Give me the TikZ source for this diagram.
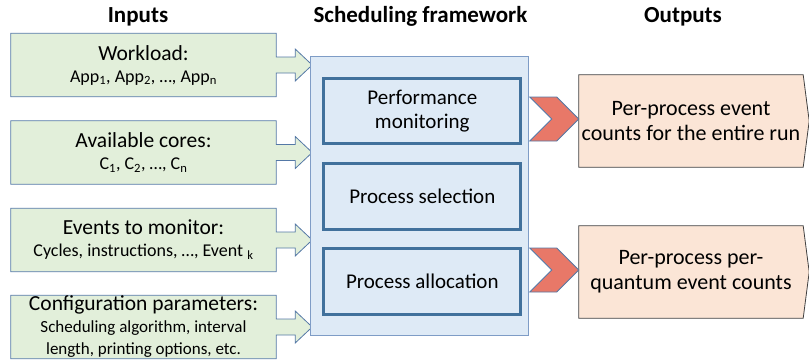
\documentclass[tikz,border=0pt]{standalone}
\usepackage{fontspec}
\setmainfont{Carlito}
\usetikzlibrary{backgrounds}
\definecolor{inputFill}{RGB}{226,239,218}
\definecolor{inputLine}{RGB}{84,120,166}
\definecolor{frameFill}{RGB}{222,234,246}
\definecolor{frameLine}{RGB}{126,156,198}
\definecolor{stepLine}{RGB}{65,113,156}
\definecolor{chevronFill}{RGB}{232,120,104}
\definecolor{outputFill}{RGB}{251,229,214}
\definecolor{outputLine}{RGB}{64,64,64}
\tikzstyle{canvas} = [x = 1pt, y = -1pt]
\tikzstyle{header} = [font=\fontsize{23}{27}\selectfont\bfseries, anchor=base]
\tikzstyle{inputText} = [minimum width=265pt, minimum height=63pt, inner sep=0pt, align=center, font=\fontsize{21.5}{22}\selectfont]
\tikzstyle{inputShape} = [fill=inputFill, draw=inputLine, line width=.8pt]
\tikzstyle{frameStyle} = [fill=frameFill, draw=frameLine, line width=1pt, minimum width=218pt, minimum height=279pt, inner sep=0pt]
\tikzstyle{stepStyle} = [fill=frameFill, draw=stepLine, line width=3pt, minimum width=197pt, minimum height=65.6pt, inner sep=0pt, align=center, font=\fontsize{21}{24}\selectfont]
\tikzstyle{chevronStyle} = [fill=chevronFill, draw=inputLine, line width=.8pt]
\tikzstyle{outputText} = [minimum width=224pt, minimum height=92pt, inner sep=0pt, align=center, font=\fontsize{22}{25}\selectfont]
\tikzstyle{outputShape} = [fill=outputFill, draw=outputLine, line width=.8pt]
\newcommand{\smallLine}{\fontsize{18}{22}\selectfont}
\newcommand{\tinyLine}{\fontsize{17}{20}\selectfont}
\newcommand{\inputCallout}[1]{\filldraw [inputShape] (#1.north west) -- (#1.north east) -- ([yshift=8pt]#1.east) -- ++(19,0) -- ++(0,-8) -- ++(17,16) -- ++(-17,16) -- ++(0,-8) -- ([yshift=-8pt]#1.east) -- (#1.south east) -- (#1.south west) -- cycle;}
\newcommand{\outputPlate}[1]{\filldraw [outputShape] (#1.north west) -- (#1.north east) -- ([xshift=6pt]#1.east) -- (#1.south east) -- (#1.south west) -- cycle;}
\newcommand{\outputChevron}[1]{\filldraw [chevronStyle] ([shift={(-49pt,24pt)}]#1.west) -- ++(27,0) -- ([yshift=2pt]#1.west) -- ++(-22,22) -- ++(-27,0) -- ++(22,-22) -- cycle;}

\begin{document}
\begin{tikzpicture}[canvas]
\useasboundingbox (0,0) rectangle (809,360);
\node [header] (inTitle) at (138,22.5) {Inputs};
\node [header] (frameTitle) at (420.5,22.5) {Scheduling framework};
\node [header] (outTitle) at (683,22.5) {Outputs};
% inputs
\node [inputText] (workload) at (143.5,65) {Workload:\\{\smallLine App\textsubscript{1}, App\textsubscript{2}, …, App\textsubscript{n}}};
\node [inputText] (cores) at (143.5,152.5) {Available cores:\\{\smallLine C\textsubscript{1}, C\textsubscript{2}, …, C\textsubscript{n}}};
\node [inputText] (events) at (143.5,240) {Events to monitor:\\{\smallLine Cycles, instructions, …, Event \textsubscript{k}}};
\node [inputText] (config) at (143.5,327) {Configuration parameters:\\{\tinyLine Scheduling algorithm, interval}\\{\tinyLine length, printing options, etc.}};
% framework
\node [frameStyle] (framework) at (419.8,196.2) {};
\node [stepStyle] (monitoring) at (422.3,111) {Performance\\monitoring};
\node [stepStyle] (selection) at (422.3,196.2) {Process selection};
\node [stepStyle] (allocation) at (422.3,281.7) {Process allocation};
% outputs
\node [outputText] (totalCounts) at (691,121) {Per-process event\\counts for the entire run};
\node [outputText] (quantumCounts) at (691,272) {Per-process per-\\quantum event counts};
\begin{scope}[on background layer]
\inputCallout{workload}
\inputCallout{cores}
\inputCallout{events}
\inputCallout{config}
\outputPlate{totalCounts}
\outputPlate{quantumCounts}
\end{scope}
\outputChevron{totalCounts}
\outputChevron{quantumCounts}
\end{tikzpicture}
\end{document}
